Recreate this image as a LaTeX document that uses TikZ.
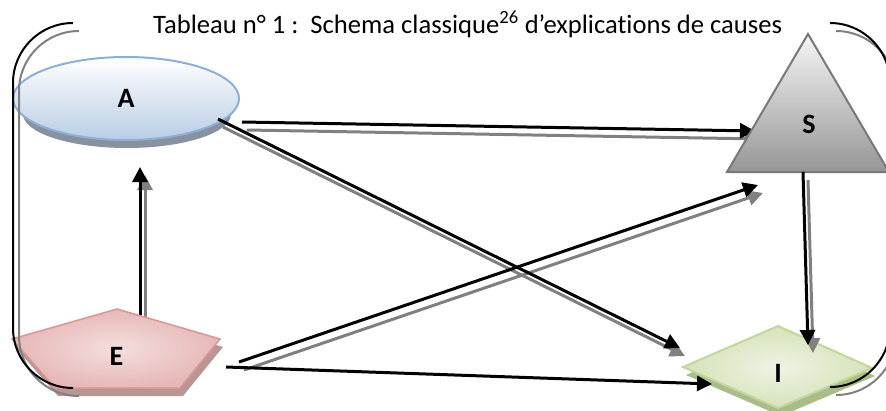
\documentclass[tikz,border=0pt]{standalone}
\usepackage{fontspec}
\setmainfont{Carlito}[Ligatures=NoCommon]
\usetikzlibrary{arrows.meta,shapes.geometric}
\pgfdeclarelayer{back}
\pgfsetlayers{back,main}
\definecolor{ablue}{RGB}{143,175,214}
\definecolor{ablueb}{RGB}{185,205,229}
\definecolor{ashadow}{RGB}{135,145,160}
\definecolor{sborder}{RGB}{120,120,120}
\definecolor{stop}{RGB}{245,245,245}
\definecolor{sbot}{RGB}{150,150,150}
\definecolor{epink}{RGB}{230,184,183}
\definecolor{epinkin}{RGB}{243,222,221}
\definecolor{eborder}{RGB}{217,150,148}
\definecolor{eshadow}{RGB}{185,150,148}
\definecolor{igreen}{RGB}{213,227,185}
\definecolor{igreenin}{RGB}{238,243,228}
\definecolor{iborder}{RGB}{195,214,155}
\definecolor{ishadow}{RGB}{170,188,135}
\definecolor{lgray}{RGB}{128,128,128}

\begin{document}
\begin{tikzpicture}[x=1pt,y=-1pt,
  lbl/.style={font=\fontsize{28}{30}\selectfont\bfseries, inner sep=0pt},
  link/.style={line width=3pt, -{Triangle[length=15pt,width=15pt]}},
  linkshade/.style={link, draw=lgray, transform canvas={shift={(5pt,-8pt)}}},
  brace/.style={line width=2pt, rounded corners=60pt}]
\useasboundingbox (0,0) rectangle (886,410);
\clip (0,0) rectangle (886,410);

% title
\node[anchor=base west, inner sep=0pt, font=\fontsize{26.6}{30}\selectfont] (title) at (153,33)
  {Tableau n° 1 :\ \ Schema classique\textsuperscript{26} d’explications de causes};

% A : ellipse with its shadow
\fill[ashadow] (127,114) ellipse [x radius=104, y radius=34];
\node[ellipse, draw=ablue, line width=2pt, top color=white, bottom color=ablueb,
  minimum width=226pt, minimum height=83pt, inner sep=0pt, lbl] (A) at (126,98.5) {A};

% S : triangle
\shade[top color=stop, bottom color=sbot] (808,34) -- (727,172) -- (889,172) -- cycle;
\draw[sborder, line width=2pt] (808,34) -- (727,172) -- (889,172) -- cycle;
\node[lbl] (S) at (809,124) {S};

% E : pentagon with its shadow
\fill[eshadow, shift={(3,8)}] (117,309) -- (220,339) -- (180,388) -- (55,388) -- (12,339) -- cycle;
\shadedraw[draw=eborder, line width=1.5pt, inner color=epinkin, outer color=epink]
  (117,309) -- (220,339) -- (180,388) -- (55,388) -- (12,339) -- cycle;
\node[lbl] (E) at (116.5,356) {E};

% I : diamond with its shadow
\fill[ishadow, shift={(3,8)}] (683,367) -- (778,326) -- (872,368) -- (778,408) -- cycle;
\shadedraw[draw=iborder, line width=2pt, inner color=igreenin, outer color=igreen]
  (683,367) -- (778,326) -- (872,368) -- (778,408) -- cycle;
\node[lbl] (I) at (778,373.5) {I};

% connector ends
\coordinate (ea1) at (140,315);  \coordinate (ea2) at (140,167);
\coordinate (as1) at (242,122);  \coordinate (as2) at (755,131);
\coordinate (ai1) at (218,119);  \coordinate (ai2) at (680,348);
\coordinate (es1) at (239,362);  \coordinate (es2) at (758,185);
\coordinate (ei1) at (226,367);  \coordinate (ei2) at (712,384);
\coordinate (si1) at (803,172);  \coordinate (si2) at (808,345);

% grey offset copies first, black arrows on top
\begin{pgfonlayer}{back}
  \draw[linkshade] (ea1) -- (ea2);
  \draw[linkshade] (as1) -- (as2);
  \draw[link] (ea1) -- (ea2);
  \draw[link] (as1) -- (as2);
\end{pgfonlayer}
\draw[linkshade] (ai1) -- (ai2);
\draw[linkshade] (es1) -- (es2);
\draw[linkshade] (si1) -- (si2);
\draw[link] (ai1) -- (ai2);
\draw[link] (es1) -- (es2);
\draw[link] (ei1) -- (ei2);
\draw[link] (si1) -- (si2);

% side brackets
\draw[brace, lgray, shift={(6,8)}] (73,23) -- (13,23) -- (13,388) -- (73,388);
\draw[brace] (73,23) -- (13,23) -- (13,388) -- (73,388);
\draw[brace, lgray, shift={(6,8)}] (830,23) -- (890,23) -- (890,387) -- (830,387);
\draw[brace] (830,23) -- (890,23) -- (890,387) -- (830,387);
\end{tikzpicture}
\end{document}
